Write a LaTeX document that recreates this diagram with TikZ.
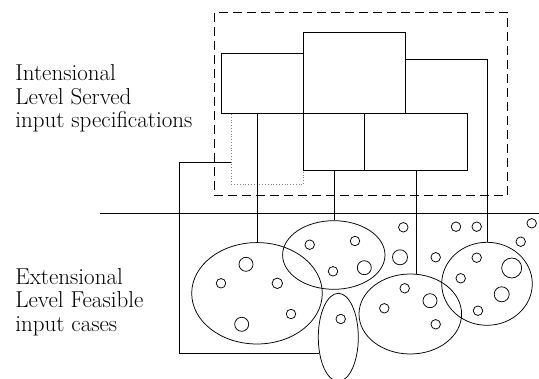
\documentclass[tikz,border=0pt]{standalone}
\usetikzlibrary{shapes.geometric}
\begin{document}
\begin{tikzpicture}[x=1pt,y=-1pt,
  line width=0.75pt,
  box/.style={draw, fill=white, rectangle, inner sep=0pt, anchor=north west},
  dashbox/.style={draw, rectangle, inner sep=0pt, anchor=north west, dash pattern=on 9pt off 5pt},
  dotbox/.style={draw, rectangle, inner sep=0pt, anchor=north west, gray, line width=0.8pt, dash pattern=on 0.8pt off 2pt},
  cluster/.style={draw, ellipse, inner sep=0pt},
  pt/.style={draw, circle, inner sep=0pt, minimum size=#1},
  pt/.default=9.5pt,
  label/.style={anchor=base west, inner sep=0pt, font=\fontsize{23}{26}\selectfont}
]
\useasboundingbox (0,0) rectangle (539,379);

% labels of the two levels
\node[label] (t1) at (15,81) {Intensional};
\node[label] (t2) at (15,104.5) {Level Served};
\node[label] (t3) at (15,128) {input specifications};
\node[label] (t4) at (15,284.3) {Extensional};
\node[label] (t5) at (15,308) {Level Feasible};
\node[label] (t6) at (15,331.7) {input cases};

% separator between the levels
\coordinate (sepL) at (100,213.3);
\coordinate (sepR) at (539,213.3);
\draw (sepL) -- (sepR);

% intensional boxes
\node[dashbox, minimum width=293.3pt, minimum height=182.7pt] (frame) at (214,12.3) {};
\node[dotbox, minimum width=72.3pt, minimum height=70.7pt] (dot) at (231,113.3) {};
\node[box, minimum width=82.3pt, minimum height=60.6pt] (A) at (221,52.7) {};
\node[box, minimum width=101.7pt, minimum height=81.6pt] (B) at (303.3,31.7) {};
\node[box, minimum width=60.7pt, minimum height=56.4pt] (C) at (303.3,113.3) {};
\node[box, minimum width=103.3pt, minimum height=56.4pt] (D) at (364,113.3) {};

% extensional clusters
\node[cluster, minimum width=130.6pt, minimum height=101.4pt] (E1) at (257,293.3) {};
\node[cluster, minimum width=102.4pt, minimum height=68.6pt] (E2) at (333.8,255) {};
\node[cluster, minimum width=40pt, minimum height=88pt] (E3) at (338.3,337.3) {};
\node[cluster, minimum width=102.6pt, minimum height=80pt] (E4) at (410.3,314) {};
\node[cluster, minimum width=90.6pt, minimum height=83pt] (E5) at (487,283.8) {};

% input cases
\node[pt=14pt] (p1) at (246,264.3) {};
\node[pt] (p2) at (221,283.3) {};
\node[pt=10.5pt] (p3) at (277.3,283.3) {};
\node[pt] (p4) at (291,314) {};
\node[pt=14pt] (p5) at (241.7,324.3) {};
\node[pt] (p6) at (309.7,244.7) {};
\node[pt] (p7) at (355,241) {};
\node[pt] (p8) at (333,271.3) {};
\node[pt=14pt] (p9) at (364.3,267.7) {};
\node[pt] (p10) at (340.7,319) {};
\node[pt] (p11) at (404.7,288.3) {};
\node[pt=14pt] (p12) at (430,300.7) {};
\node[pt] (p13) at (384.3,308.3) {};
\node[pt] (p14) at (435.7,324.3) {};
\node[pt] (p15) at (476.7,257.7) {};
\node[pt=20pt] (p16) at (511.7,268) {};
\node[pt] (p17) at (460.7,278.3) {};
\node[pt=15pt] (p18) at (501.7,294.3) {};
\node[pt] (p19) at (478,310.7) {};
\node[pt] (p20) at (403.3,227.3) {};
\node[pt=15pt] (p21) at (400,257.3) {};
\node[pt] (p22) at (456,226.7) {};
\node[pt] (p23) at (476.7,226.7) {};
\node[pt] (p24) at (531.7,223.3) {};
\node[pt] (p25) at (520.7,241.7) {};
\node[pt] (p26) at (435.7,257.3) {};

% links from specifications to cases
\draw (A.south -| E1.north) -- (E1.north);
\draw (C.south) -- (C.south |- E2.north);
\draw (D.south) -- (D.south |- E4.north);
\draw ([yshift=-27.6pt]B.north east) -| (E5.north);
\draw ([yshift=-13pt]dot.west) -- ++(-51.7,0) |- (E3.220);
\end{tikzpicture}
\end{document}
